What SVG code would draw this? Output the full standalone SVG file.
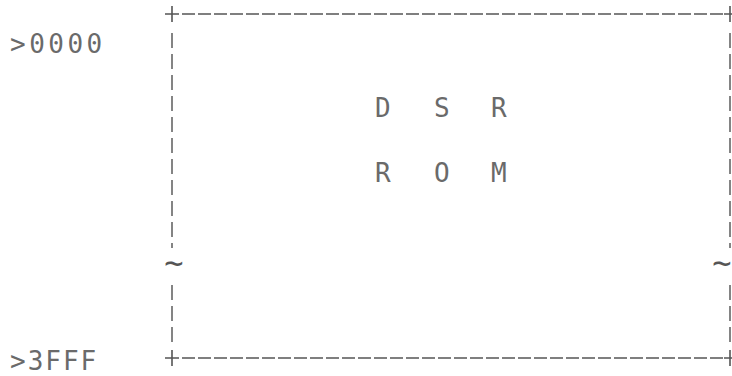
<svg xmlns="http://www.w3.org/2000/svg" width="732" height="376" viewBox="0 0 732 376">
<style>
.t{font-family:"DejaVu Sans Mono","Liberation Mono",monospace;font-size:26px;fill:#6a6a6a;}
.w{font-family:"DejaVu Sans Mono","Liberation Mono",monospace;font-size:32px;fill:#555;}
.h{stroke:#555;stroke-width:1.6;stroke-dasharray:13 3;fill:none;}
.v{stroke:#666;stroke-width:1.6;stroke-dasharray:15 6;fill:none;}
.p{stroke:#555;stroke-width:1.6;fill:none;}
</style>
<rect width="732" height="376" fill="#fff"/>
<g id="labels">
<text class="t" x="10" y="53" letter-spacing="3.5">&gt;0000</text>
<text class="t" x="10" y="370" letter-spacing="2">&gt;3FFF</text>
</g>
<g id="frame">
<path class="h" d="M182 14 H726"/>
<path class="h" d="M182 358 H726"/>
<path class="p" d="M165 14 H179 M172 6 V22"/>
<path class="p" d="M165 358 H179 M172 350 V366"/>
<path class="p" d="M724 14 H732 M730 6 V22"/>
<path class="p" d="M724 358 H732 M730 350 V366"/>
<path class="v" d="M172 33 V248"/>
<path class="v" d="M172 285 V346"/>
<path class="v" d="M730 33 V248"/>
<path class="v" d="M730 285 V346"/>
<text class="w" x="174" y="274" text-anchor="middle">~</text>
<text class="w" x="722" y="274" text-anchor="middle">~</text>
</g>
<g id="node-dsr-rom">
<text class="t" x="375" y="117">D</text>
<text class="t" x="434" y="117">S</text>
<text class="t" x="491" y="117">R</text>
<text class="t" x="375" y="182">R</text>
<text class="t" x="434" y="182">O</text>
<text class="t" x="491" y="182">M</text>
</g>
</svg>
